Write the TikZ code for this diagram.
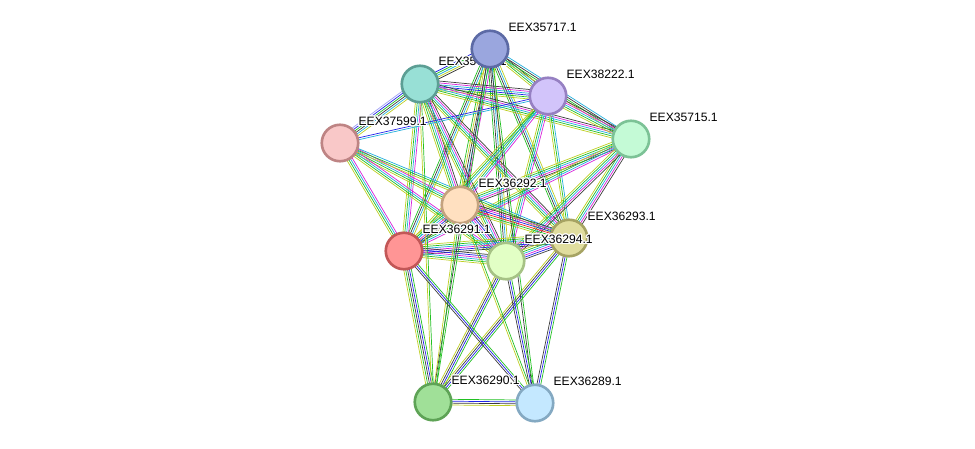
\documentclass[tikz,border=0pt]{standalone}
\usepackage{fontspec}
\setmainfont{Liberation Sans}
\usepackage{contour}
\contourlength{0.7pt}
\usetikzlibrary{calc,backgrounds}

% evidence colours
\definecolor{nb}{HTML}{22C022}
\definecolor{tm}{HTML}{BECE22}
\definecolor{db}{HTML}{22AEDC}
\definecolor{ex}{HTML}{D822D8}
\definecolor{cx}{HTML}{3C3C3C}
\definecolor{co}{HTML}{2222EA}
\definecolor{fu}{HTML}{EE2222}
\definecolor{hm}{HTML}{A0A0F4}

% one evidence line per colour, side by side
\newcommand\ppilink[3]{%
  \foreach \c [count=\k] in {#3} {\xdef\nlines{\k}}
  \foreach \c [count=\k] in {#3} {
    \pgfmathsetlengthmacro\off{(\k-(\nlines+1)/2)*1.08pt}
    \draw[\c] ($(#1)!\off!90:(#2)$) -- ($(#2)!\off!-90:(#1)$);
  }%
}

\begin{document}
\begin{tikzpicture}[x=0.02cm, y=-0.02cm, line width=0.68pt,
    prot/.style={circle, inner sep=0pt, minimum size=0.73cm, line width=1.5pt},
    lbl/.style={anchor=west, inner sep=0pt, font=\fontsize{6.9}{8}\selectfont}]

    \useasboundingbox (0,0) rectangle (975,449);

    % proteins (circle, then its label)
    \node[prot, fill={rgb,255:red,152;green,224;blue,214}, draw={rgb,255:red,92;green,158;blue,148}] (h) at (420,84) {};
    \node[lbl] (lh) at ([shift={(18,-22)}]h) {\contour{white}{EEX35716.1}};
    \node[prot, fill={rgb,255:red,154;green,166;blue,222}, draw={rgb,255:red,92;green,106;blue,165}] (a) at (490,49) {};
    \node[lbl] (la) at ([shift={(18,-21)}]a) {\contour{white}{EEX35717.1}};
    \node[prot, fill={rgb,255:red,210;green,196;blue,250}, draw={rgb,255:red,150;green,128;blue,194}] (b) at (548,96) {};
    \node[lbl] (lb) at ([shift={(18,-21)}]b) {\contour{white}{EEX38222.1}};
    \node[prot, fill={rgb,255:red,196;green,250;blue,214}, draw={rgb,255:red,124;green,194;blue,150}] (c) at (631,139) {};
    \node[lbl] (lc) at ([shift={(18,-21)}]c) {\contour{white}{EEX35715.1}};
    \node[prot, fill={rgb,255:red,249;green,200;blue,200}, draw={rgb,255:red,190;green,132;blue,132}] (d) at (340,143) {};
    \node[lbl] (ld) at ([shift={(18,-21)}]d) {\contour{white}{EEX37599.1}};
    \node[prot, fill={rgb,255:red,255;green,224;blue,192}, draw={rgb,255:red,196;green,162;blue,126}] (e) at (460,205) {};
    \node[lbl] (le) at ([shift={(18,-21)}]e) {\contour{white}{EEX36292.1}};
    \node[prot, fill={rgb,255:red,224;green,221;blue,158}, draw={rgb,255:red,166;green,163;blue,99}] (f) at (569,238) {};
    \node[lbl] (lf) at ([shift={(18,-21)}]f) {\contour{white}{EEX36293.1}};
    \node[prot, fill={rgb,255:red,255;green,149;blue,149}, draw={rgb,255:red,194;green,87;blue,87}] (g) at (404,251) {};
    \node[lbl] (lg) at ([shift={(18,-21)}]g) {\contour{white}{EEX36291.1}};
    \node[prot, fill={rgb,255:red,226;green,255;blue,197}, draw={rgb,255:red,166;green,194;blue,133}] (i) at (506,261) {};
    \node[lbl] (li) at ([shift={(18,-21)}]i) {\contour{white}{EEX36294.1}};
    \node[prot, fill={rgb,255:red,160;green,224;blue,152}, draw={rgb,255:red,94;green,163;blue,86}] (j) at (433,402) {};
    \node[lbl] (lj) at ([shift={(18,-21)}]j) {\contour{white}{EEX36290.1}};
    \node[prot, fill={rgb,255:red,196;green,232;blue,255}, draw={rgb,255:red,132;green,169;blue,194}] (k) at (535,403) {};
    \node[lbl] (lk) at ([shift={(18,-21)}]k) {\contour{white}{EEX36289.1}};

    % interactions
    \begin{pgfonlayer}{background}
    \ppilink{a}{h}{co,nb,db,tm,cx}
    \ppilink{a}{b}{tm,nb,db,cx}
    \ppilink{a}{c}{tm,nb,cx,db}
    \ppilink{a}{e}{nb,tm,cx,db,ex}
    \ppilink{a}{f}{nb,cx,db,tm}
    \ppilink{a}{g}{nb,cx,db,tm}
    \ppilink{a}{i}{nb,cx,db,tm}
    \ppilink{h}{b}{tm,nb,co,db,ex,cx}
    \ppilink{h}{c}{tm,nb,db,ex,cx}
    \ppilink{h}{e}{tm,nb,db,ex,cx}
    \ppilink{h}{f}{tm,nb,db,ex,cx}
    \ppilink{h}{g}{tm,nb,db,ex}
    \ppilink{h}{i}{tm,nb,db,ex,cx}
    \ppilink{h}{d}{hm,co,nb,cx,db,tm}
    \ppilink{b}{c}{tm,nb,db,ex,cx}
    \ppilink{b}{e}{tm,nb,db,ex}
    \ppilink{b}{f}{tm,nb,db}
    \ppilink{b}{g}{tm,nb,db}
    \ppilink{b}{i}{tm,nb,db,ex}
    \ppilink{b}{d}{co,db}
    \ppilink{c}{e}{tm,nb,db,ex,cx}
    \ppilink{c}{f}{tm,nb,db,ex,cx}
    \ppilink{c}{g}{tm,nb,db,ex}
    \ppilink{c}{i}{tm,nb,db,ex,cx}
    \ppilink{d}{e}{tm,nb,db,ex}
    \ppilink{d}{g}{tm,nb,db,ex}
    \ppilink{d}{i}{tm,nb,db,ex}
    \ppilink{d}{f}{tm,nb,db}
    \ppilink{e}{f}{tm,nb,fu,co,ex,cx}
    \ppilink{e}{g}{tm,nb,db,ex,co,cx}
    \ppilink{e}{i}{tm,nb,db,ex,co,cx}
    \ppilink{f}{g}{tm,nb,db,ex,co,cx}
    \ppilink{f}{i}{tm,nb,db,ex,co,cx}
    \ppilink{g}{i}{tm,nb,db,ex,co,cx}
    \ppilink{j}{g}{nb,co,cx,nb,tm}
    \ppilink{j}{h}{nb,tm}
    \ppilink{j}{a}{nb,cx}
    \ppilink{j}{e}{nb,tm}
    \ppilink{j}{i}{nb,co,cx,tm}
    \ppilink{j}{f}{nb,co,cx,tm}
    \ppilink{j}{k}{tm,cx,co,nb}
    \ppilink{k}{g}{nb,co,cx}
    \ppilink{k}{e}{nb,tm}
    \ppilink{k}{a}{nb,cx}
    \ppilink{k}{i}{nb,co,cx}
    \ppilink{k}{f}{nb,co,cx}
    \end{pgfonlayer}

\end{tikzpicture}
\end{document}
